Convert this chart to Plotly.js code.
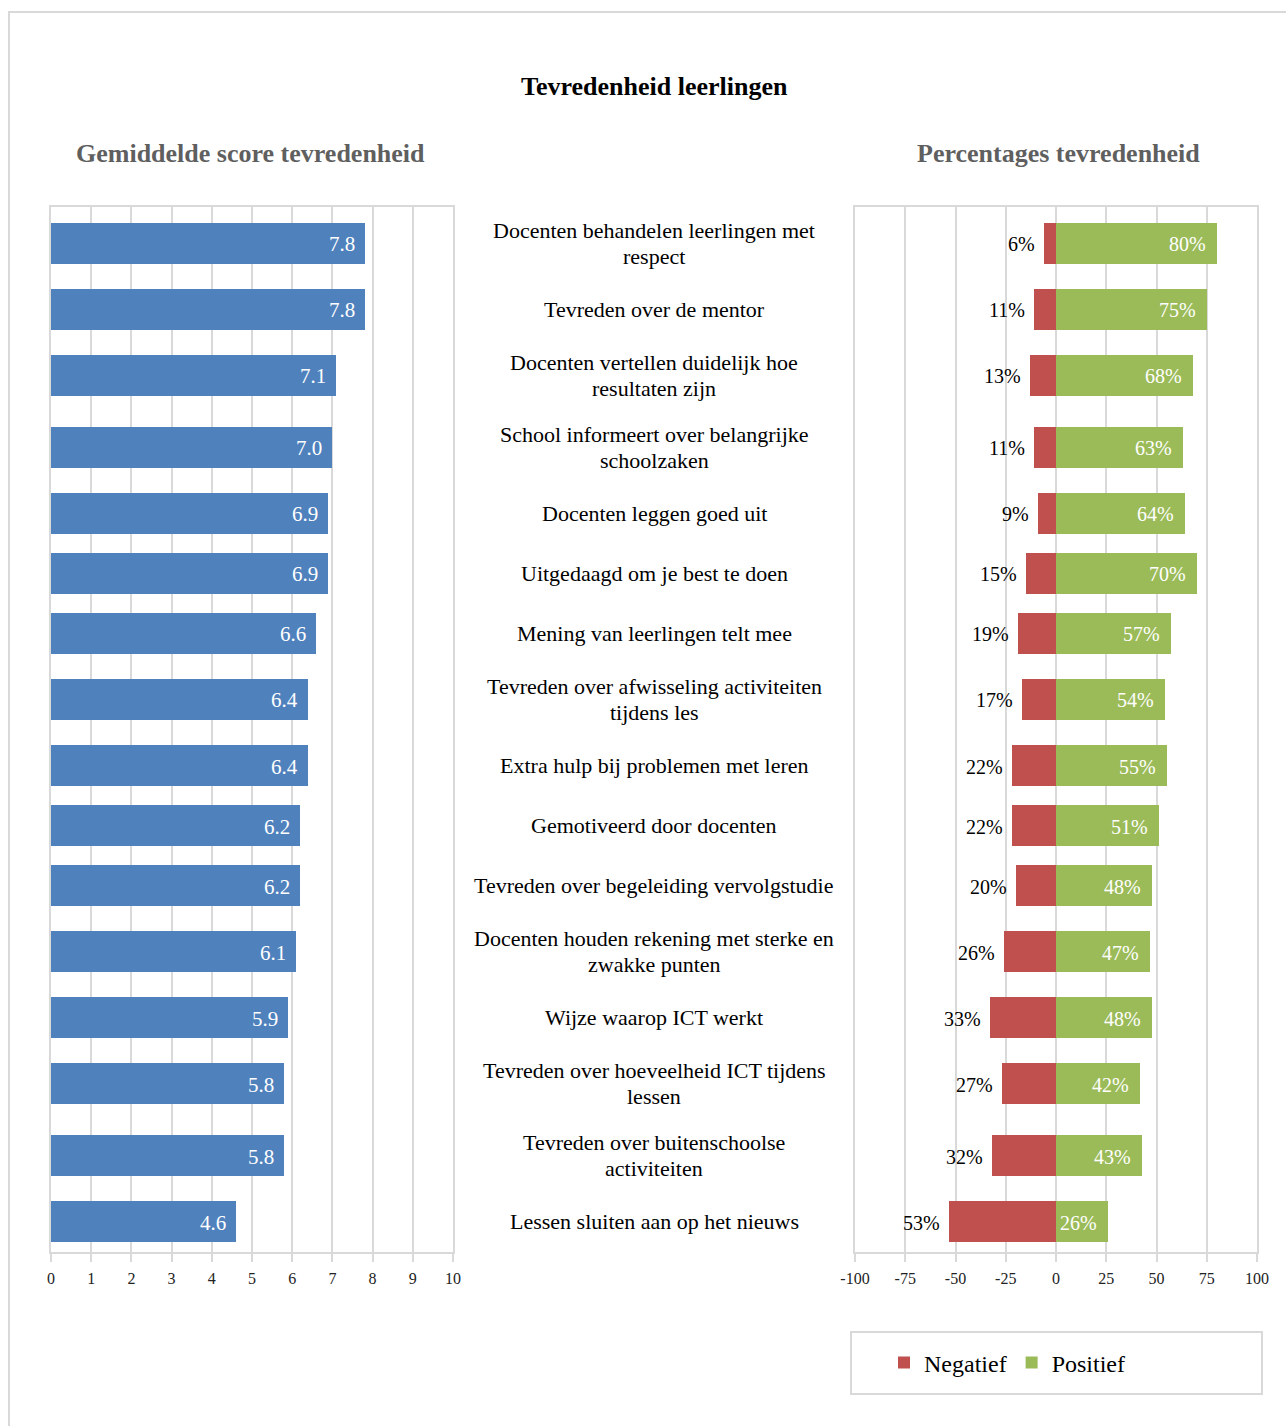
<!DOCTYPE html>
<html>
<head>
<meta charset="utf-8">
<script src="https://cdn.plot.ly/plotly-3.0.1.min.js"></script>
<style>html,body{margin:0;padding:0;background:#fff;}#chart{width:1286px;height:1426px;}</style>
</head>
<body>
<div id="chart"></div>
<script>
const categories = [
  "Docenten behandelen leerlingen met<br>respect",
  "Tevreden over de mentor",
  "Docenten vertellen duidelijk hoe<br>resultaten zijn",
  "School informeert over belangrijke<br>schoolzaken",
  "Docenten leggen goed uit",
  "Uitgedaagd om je best te doen",
  "Mening van leerlingen telt mee",
  "Tevreden over afwisseling activiteiten<br>tijdens les",
  "Extra hulp bij problemen met leren",
  "Gemotiveerd door docenten",
  "Tevreden over begeleiding vervolgstudie",
  "Docenten houden rekening met sterke en<br>zwakke punten",
  "Wijze waarop ICT werkt",
  "Tevreden over hoeveelheid ICT tijdens<br>lessen",
  "Tevreden over buitenschoolse<br>activiteiten",
  "Lessen sluiten aan op het nieuws"
];
const scores = [7.8, 7.8, 7.1, 7.0, 6.9, 6.9, 6.6, 6.4, 6.4, 6.2, 6.2, 6.1, 5.9, 5.8, 5.8, 4.6];
const negatief = [6, 11, 13, 11, 9, 15, 19, 17, 22, 22, 20, 26, 33, 27, 32, 53];
const positief = [80, 75, 68, 63, 64, 70, 57, 54, 55, 51, 48, 47, 48, 42, 43, 26];
const scoreTicks = [0,1,2,3,4,5,6,7,8,9,10];
const pctTicks = [-100,-75,-50,-25,0,25,50,75,100];

// Row layout: rows with two-line labels get more room (like the original)
const labelLines = categories.map(c => c.split("<br>"));
const rowH = labelLines.map(l => 48 + 12 * l.length);
const rowPos = [];
let acc = 0;
rowH.forEach(h => { rowPos.push(acc + h / 2); acc += h; });
const total = acc;

const W = 1286, H = 1426;
const FONT = "Liberation Serif, Times New Roman, serif";
const GRID = "#D9D9D9";
const BLUE = "#4F81BD", RED = "#C0504D", GREEN = "#9BBB59";
const barW = 41;
const LINE_GAP = 26;

const traces = [
  {type: "bar", orientation: "h", x: scores, y: rowPos, width: barW,
   marker: {color: BLUE}, xaxis: "x", yaxis: "y", showlegend: false, hoverinfo: "x"},
  {type: "bar", orientation: "h", name: "Negatief", x: negatief.map(v => -v), y: rowPos, width: barW,
   marker: {color: RED}, xaxis: "x2", yaxis: "y2", hoverinfo: "x"},
  {type: "bar", orientation: "h", name: "Positief", x: positief, y: rowPos, width: barW,
   marker: {color: GREEN}, xaxis: "x2", yaxis: "y2", hoverinfo: "x"}
];

const annotations = [];
labelLines.forEach((lines, i) => {
  const n = lines.length;
  lines.forEach((t, k) => {
    annotations.push({xref: "paper", yref: "y", x: 654 / W, y: rowPos[i], text: t, showarrow: false,
      xanchor: "center", yanchor: "middle", align: "center", yshift: ((n - 1) / 2 - k) * LINE_GAP,
      font: {family: FONT, size: 22, color: "#000"}});
  });
  annotations.push({xref: "x", yref: "y", x: scores[i], y: rowPos[i], text: scores[i].toFixed(1), showarrow: false,
    xanchor: "right", yanchor: "middle", xshift: -8, yshift: -1, font: {family: FONT, size: 21, color: "#fff"}});
  annotations.push({xref: "x2", yref: "y2", x: -negatief[i], y: rowPos[i], text: negatief[i] + "%", showarrow: false,
    xanchor: "right", yanchor: "middle", xshift: -7, yshift: -1, font: {family: FONT, size: 20, color: "#000"}});
  annotations.push({xref: "x2", yref: "y2", x: positief[i], y: rowPos[i], text: positief[i] + "%", showarrow: false,
    xanchor: "right", yanchor: "middle", xshift: -9, yshift: -1, font: {family: FONT, size: 20, color: "#fff"}});
});
annotations.push({xref: "paper", yref: "paper", x: 654 / W, y: 1 - 87 / H, text: "<b>Tevredenheid leerlingen</b>",
  showarrow: false, xanchor: "center", yanchor: "middle", font: {family: FONT, size: 26, color: "#000"}});
annotations.push({xref: "paper", yref: "paper", x: 250 / W, y: 1 - 153 / H, text: "<b>Gemiddelde score tevredenheid</b>",
  showarrow: false, xanchor: "center", yanchor: "middle", font: {family: FONT, size: 26, color: "#5f5f5f"}});
annotations.push({xref: "paper", yref: "paper", x: 1058 / W, y: 1 - 153 / H, text: "<b>Percentages tevredenheid</b>",
  showarrow: false, xanchor: "center", yanchor: "middle", font: {family: FONT, size: 26, color: "#5f5f5f"}});

const yDom = [1 - 1252 / H, 1 - 207 / H];
const xAxisCommon = {
  showgrid: true, gridcolor: GRID, gridwidth: 2, zeroline: false,
  showline: true, linecolor: GRID, linewidth: 2, mirror: true,
  ticks: "outside", ticklen: 8, tickcolor: GRID, tickwidth: 2,
  tickfont: {family: FONT, size: 16, color: "#222"}, ticklabelstandoff: 3, fixedrange: true
};
const yAxisCommon = {
  range: [total, 0], showgrid: false, zeroline: false, showticklabels: false, ticks: "",
  showline: true, linecolor: GRID, linewidth: 2, mirror: true, domain: yDom, fixedrange: true
};

const layout = {
  width: W, height: H, margin: {l: 0, r: 0, t: 0, b: 0},
  paper_bgcolor: "#fff", plot_bgcolor: "#fff",
  barmode: "overlay", bargap: 0,
  font: {family: FONT},
  xaxis: Object.assign({}, xAxisCommon, {domain: [51 / W, 453 / W], range: [0, 10],
    tickmode: "array", tickvals: scoreTicks, ticktext: scoreTicks.map(String), anchor: "y"}),
  yaxis: Object.assign({}, yAxisCommon, {anchor: "x"}),
  xaxis2: Object.assign({}, xAxisCommon, {domain: [855 / W, 1257 / W], range: [-100, 100],
    tickmode: "array", tickvals: pctTicks, ticktext: pctTicks.map(String), anchor: "y2"}),
  yaxis2: Object.assign({}, yAxisCommon, {anchor: "x2"}),
  showlegend: true,
  legend: {orientation: "h", x: 884 / W, xanchor: "left", y: 1 - 1363 / H, yanchor: "middle",
    font: {family: FONT, size: 24, color: "#000"}, bgcolor: "rgba(0,0,0,0)", borderwidth: 0,
    traceorder: "normal"},
  shapes: [
    {type: "rect", xref: "paper", yref: "paper", x0: 9 / W, x1: 1.01, y0: -0.01, y1: 1 - 12 / H,
     line: {color: "#D9D9D9", width: 2}, fillcolor: "rgba(0,0,0,0)", layer: "below"},
    {type: "rect", xref: "paper", yref: "paper", x0: 851 / W, x1: 1262 / W, y0: 1 - 1394 / H, y1: 1 - 1332 / H,
     line: {color: "#D9D9D9", width: 2}, fillcolor: "rgba(0,0,0,0)", layer: "below"}
  ],
  annotations: annotations
};

Plotly.newPlot("chart", traces, layout, {displayModeBar: false, staticPlot: true});
</script>
</body>
</html>
